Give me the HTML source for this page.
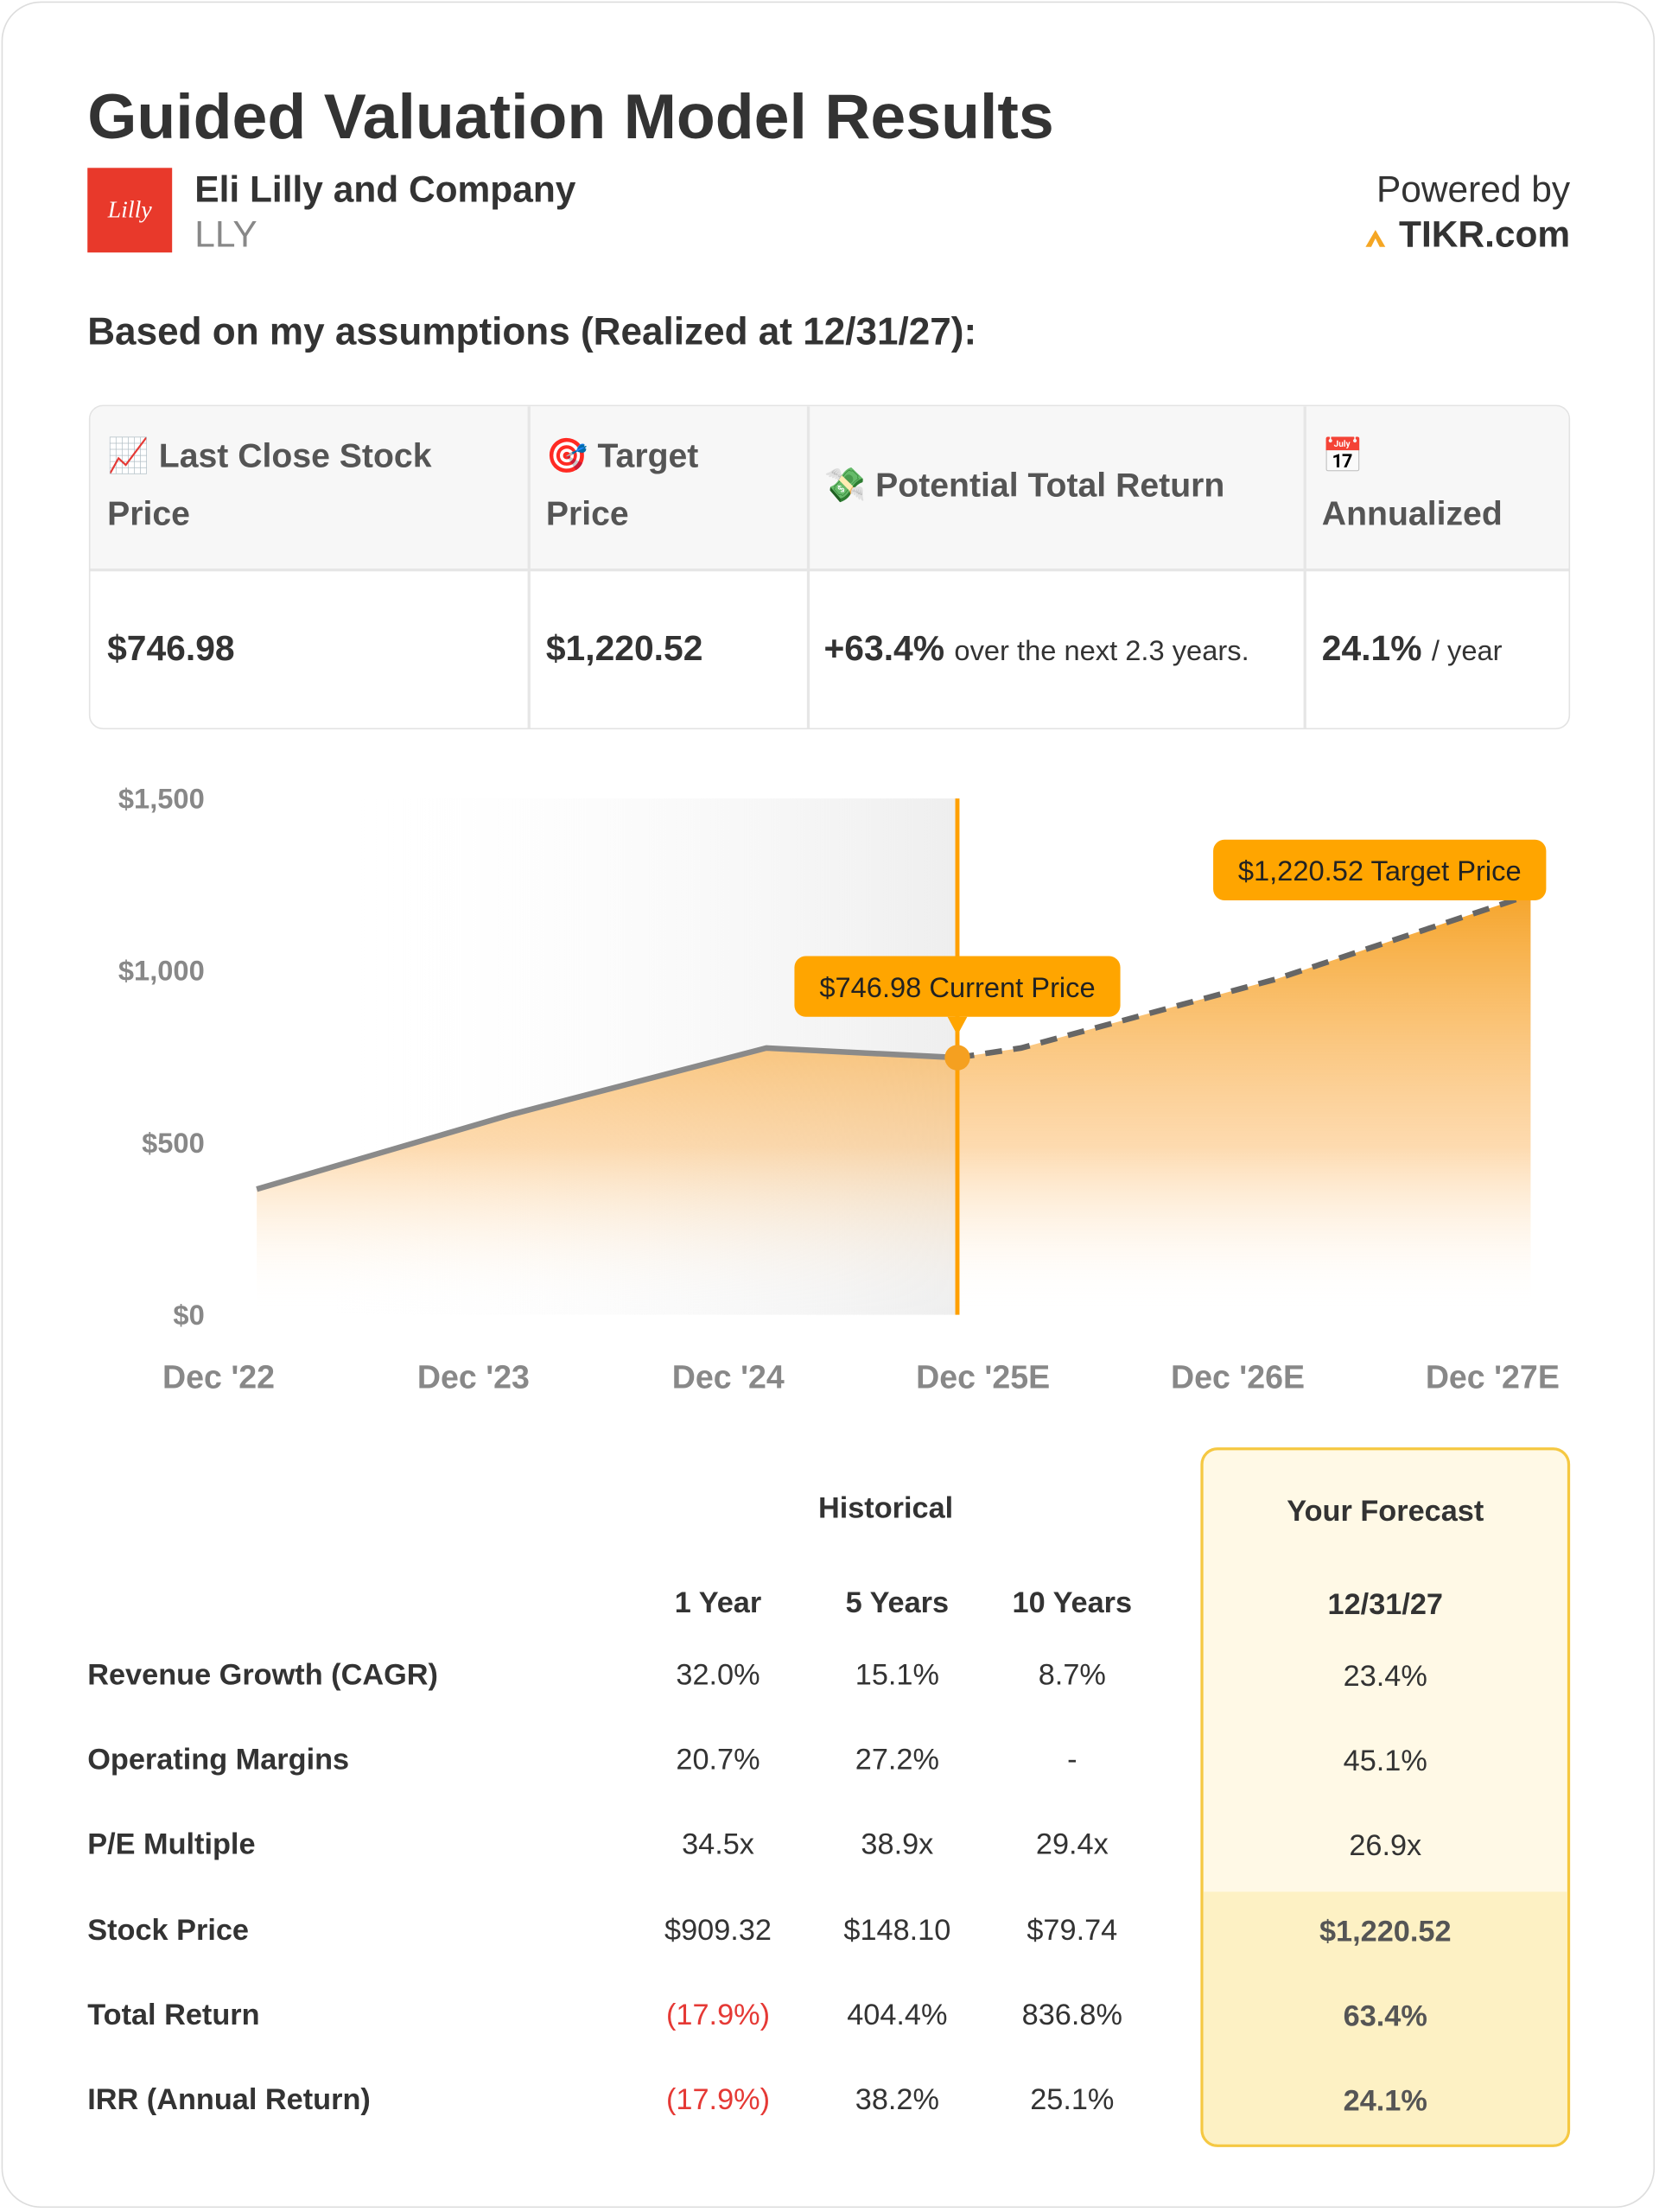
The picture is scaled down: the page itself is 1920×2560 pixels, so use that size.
<!DOCTYPE html>
<html><head><meta charset="utf-8"><style>
html,body{margin:0;padding:0;width:1920px;height:2560px;overflow:hidden;background:#fff;}
#wrap{position:absolute;left:0;top:0;width:1176px;height:1568px;transform:scale(1.632653);transform-origin:0 0;font-family:"Liberation Sans",sans-serif;color:#333;}
.card{position:absolute;left:1px;top:1px;width:1172px;height:1564px;border:1.5px solid #ddd;border-radius:28px;box-sizing:border-box;}
.abs{position:absolute;white-space:nowrap;}
.b{font-weight:bold;}
.tbl{position:absolute;left:63px;top:287px;width:1050px;height:230px;border:1.5px solid #e3e3e3;border-radius:10px;box-sizing:border-box;overflow:hidden;}
.hd{position:absolute;left:0;top:0;width:100%;height:115px;background:#f7f7f7;border-bottom:2px solid #e6e6e6;}
.vl{position:absolute;top:0;width:1.5px;height:100%;background:#e6e6e6;}
.hc{position:absolute;font-size:24px;font-weight:bold;color:#555;line-height:41px;}
.rl{position:absolute;left:62px;font-size:21px;font-weight:bold;color:#333;}
.v{position:absolute;font-size:21px;color:#333;text-align:center;width:120px;white-space:nowrap;}
.red{color:#e53935;}
</style></head><body>
<div id="wrap">
<div class="card"></div>
<div class="abs b" style="left:62px;top:57px;font-size:45px;color:#333;">Guided Valuation Model Results</div>
<div class="abs" style="left:62px;top:119px;width:60px;height:60px;background:#e8392b;color:#fff;font-family:'Liberation Serif',serif;font-style:italic;font-size:17px;line-height:60px;text-align:center;">Lilly</div>
<div class="abs b" style="left:138px;top:119px;font-size:26px;">Eli Lilly and Company</div>
<div class="abs" style="left:138px;top:151px;font-size:26px;color:#888;">LLY</div>
<div class="abs" style="right:63px;top:119px;font-size:26px;">Powered by</div>
<div class="abs b" style="right:63px;top:151px;font-size:26px;"><svg width="20" height="18" viewBox="0 0 20 18" style="margin-right:6px;vertical-align:-1px"><path d="M2 17 L9 5 L16 17 L12 17 L9 11 L6 17Z" fill="#f5a623"/></svg>TIKR.com</div>
<div class="abs b" style="left:62px;top:220px;font-size:27px;">Based on my assumptions (Realized at 12/31/27):</div>

<div class="tbl">
<div class="hd"></div>
<div class="vl" style="left:310px"></div><div class="vl" style="left:508px"></div><div class="vl" style="left:860px"></div>
<div class="hc" style="left:12px;top:15px;">📈 Last Close Stock<br>Price</div>
<div class="hc" style="left:323px;top:15px;">🎯 Target<br>Price</div>
<div class="hc" style="left:520px;top:36px;">💸 Potential Total Return</div>
<div class="hc" style="left:873px;top:15px;">📅<br>Annualized</div>
<div class="abs b" style="left:12px;top:158px;font-size:25px;">$746.98</div>
<div class="abs b" style="left:323px;top:158px;font-size:25px;">$1,220.52</div>
<div class="abs" style="left:520px;top:158px;font-size:25px;"><b>+63.4%</b> <span style="font-size:20px">over the next 2.3 years.</span></div>
<div class="abs" style="left:873px;top:158px;font-size:25px;"><b>24.1%</b> <span style="font-size:20px">/ year</span></div>
</div>

<svg id="chart" class="abs" style="left:0;top:540px" width="1176" height="470">
<defs>
<linearGradient id="gshade" x1="0" x2="1" y1="0" y2="0"><stop offset="0" stop-color="#fff" stop-opacity="0"/><stop offset="1" stop-color="#eee"/></linearGradient>
<linearGradient id="gfill" x1="0" x2="0" y1="0" y2="1"><stop offset="0" stop-color="#f5a020" stop-opacity="0.95"/><stop offset="0.6" stop-color="#fcc27a" stop-opacity="0.6"/><stop offset="1" stop-color="#fff" stop-opacity="0"/></linearGradient>
</defs>
<g id="g"></g>
</svg>

<div class="abs b" style="left:580px;top:1058px;font-size:21px;">Historical</div>
<div class="abs" style="left:851px;top:1026px;width:262px;height:496px;background:#fff9e6;border:2px solid #f5c842;border-radius:12px;box-sizing:border-box;overflow:hidden;"><div style="position:absolute;left:0;top:313px;width:100%;height:200px;background:#fdf1c4"></div></div>
<div class="v b" style="left:882px;top:1060px;width:200px;">Your Forecast</div>
<div class="v b" style="left:449px;top:1125px;">1 Year</div>
<div class="v b" style="left:576px;top:1125px;">5 Years</div>
<div class="v b" style="left:700px;top:1125px;">10 Years</div>
<div class="v b" style="left:922px;top:1126px;">12/31/27</div>
<div id="rows"></div>
</div>
<script>
const xLabels=["Dec '22","Dec '23","Dec '24","Dec '25E","Dec '26E","Dec '27E"];
const yTicks=[0,500,1000,1500];
const histYears=[0,1,2,2.75];
const histVals=[365,582,775,746.98];
const fcYears=[2.75,3,4,5];
const fcVals=[746.98,775,975,1220.52];
const currentPrice=746.98, targetPrice=1220.52;
const NS="http://www.w3.org/2000/svg";
const X=t=>182+t*180.6;
const Y=v=>392-v*0.244;
const g=document.getElementById('g');
function mk(tag,attrs){const e=document.createElementNS(NS,tag);for(const k in attrs)e.setAttribute(k,attrs[k]);g.appendChild(e);return e;}
let e;
e=mk('rect',{x:238,y:Y(1500),width:X(2.75)-238,height:Y(0)-Y(1500),fill:'url(#gshade)'});


yTicks.forEach(v=>{e=mk('text',{x:145,y:Y(v)+7,'text-anchor':'end','font-size':20,'font-weight':'bold',fill:'#888'});e.textContent='$'+v.toLocaleString('en-US');

});
xLabels.forEach((l,i)=>{e=mk('text',{x:X(i)-27,y:444,'text-anchor':'middle','font-size':23,'font-weight':'bold',fill:'#888'});e.textContent=l;

});
const all=histYears.map((t,i)=>[X(t),Y(histVals[i])]).concat(fcYears.slice(1).map((t,i)=>[X(t),Y(fcVals[i+1])]));
let area='M'+all[0][0]+','+Y(0)+all.map(p=>' L'+p[0]+','+p[1]).join('')+' L'+all[all.length-1][0]+','+Y(0)+'Z';
e=mk('path',{d:area,fill:'url(#gfill)'});


e=mk('polyline',{points:histYears.map((t,i)=>X(t)+','+Y(histVals[i])).join(' '),fill:'none',stroke:'#8a8a8a','stroke-width':4});


e=mk('polyline',{points:fcYears.map((t,i)=>X(t)+','+Y(fcVals[i])).join(' '),fill:'none',stroke:'#666','stroke-width':4,'stroke-dasharray':'12,8'});


e=mk('line',{x1:X(2.75),x2:X(2.75),y1:Y(1500),y2:Y(0),stroke:'#ffa000','stroke-width':3});


e=mk('circle',{cx:X(2.75),cy:Y(currentPrice),r:9,fill:'#f5a020'});


function callout(cx,y,w,txt,name,ptr){
 const r=mk('rect',{x:cx-w/2,y:y,width:w,height:43,rx:8,fill:'#ffa500'});
 
 
 if(ptr){mk('path',{d:`M${cx-7},${y+43} L${cx},${y+56} L${cx+7},${y+43}Z`,fill:'#ffa500'});}
 const t=mk('text',{x:cx,y:y+29,'text-anchor':'middle','font-size':20,fill:'#222'});t.textContent=txt;
 
 
}
callout(X(2.75),Y(currentPrice)-72,231,'$'+currentPrice.toFixed(2)+' Current Price','current-price',true);
callout(X(5)-107,Y(targetPrice)-39,236,'$1,220.52 Target Price','target-price',false);

const rowLabels=["Revenue Growth (CAGR)","Operating Margins","P/E Multiple","Stock Price","Total Return","IRR (Annual Return)"];
const y1=["32.0%","20.7%","34.5x","$909.32","(17.9%)","(17.9%)"];
const y5=["15.1%","27.2%","38.9x","$148.10","404.4%","38.2%"];
const y10=["8.7%","-","29.4x","$79.74","836.8%","25.1%"];
const fc=["23.4%","45.1%","26.9x","$1,220.52","63.4%","24.1%"];
const rows=document.getElementById('rows');
rowLabels.forEach((l,i)=>{
 const top=1176+i*60.2;
 let d=document.createElement('div');d.className='rl';d.style.top=top+'px';d.textContent=l;
 
 
 rows.appendChild(d);
 [[y1,449],[y5,576],[y10,700],[fc,922]].forEach(([arr,x],j)=>{
  d=document.createElement('div');d.className='v'+(arr[i].startsWith('(')?' red':'')+(j==3&&i>=3?' b':'');
  d.style.left=x+'px';d.style.top=(j==3?top+1:top)+'px';
  if(j==3&&i>=3)d.style.color='#555';
  d.textContent=arr[i];
  
  
  rows.appendChild(d);
 });
});
</script>
</body></html>
